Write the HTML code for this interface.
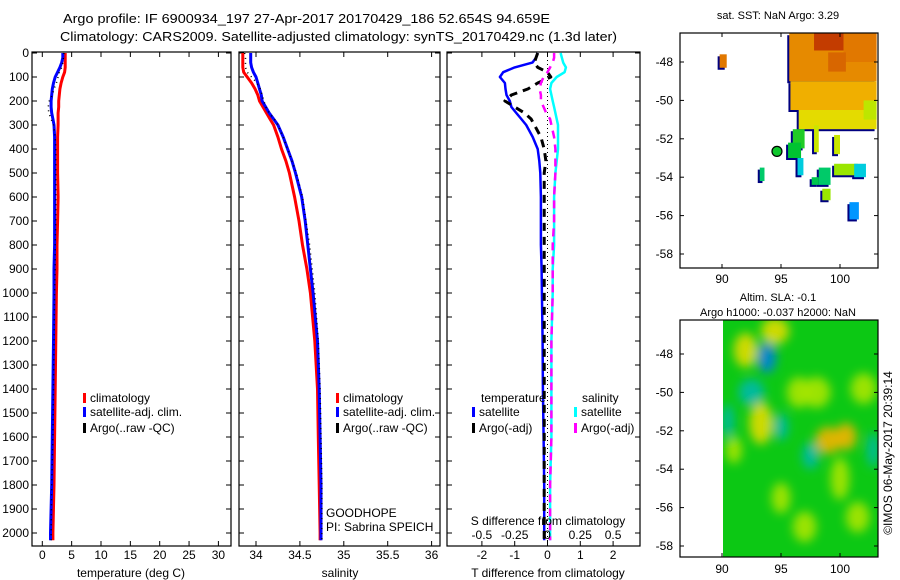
<!DOCTYPE html>
<html><head><meta charset="utf-8">
<style>
html,body{margin:0;padding:0;background:#fff;}
svg{display:block;font-family:"Liberation Sans",sans-serif;}
text{fill:#000;}
</style></head>
<body>
<svg id="fig" width="900" height="580" viewBox="0 0 900 580" xmlns="http://www.w3.org/2000/svg">
<defs>
<filter id="blur" x="-50%" y="-50%" width="200%" height="200%"><feGaussianBlur stdDeviation="5"/></filter>
<clipPath id="clipSla"><rect x="723" y="320" width="155" height="237"/></clipPath>
<clipPath id="clipSst"><rect x="680" y="33" width="198" height="235"/></clipPath>
</defs>
<text x="63" y="23" font-size="13" textLength="487" lengthAdjust="spacingAndGlyphs">Argo profile: IF 6900934_197 27-Apr-2017 20170429_186 52.654S 94.659E</text>
<text x="60" y="41" font-size="13" textLength="557" lengthAdjust="spacingAndGlyphs">Climatology: CARS2009. Satellite-adjusted climatology: synTS_20170429.nc (1.3d later)</text>
<g id="g"></g>
</svg>
<script>
// ---- data ----
const depths = [0,20,40,60,80,100,125,150,175,200,225,250,275,300,350,400,450,500,600,700,800,900,1000,1200,1400,1600,1800,2000,2030];
const depthTicks = [0,100,200,300,400,500,600,700,800,900,1000,1100,1200,1300,1400,1500,1600,1700,1800,1900,2000];
const climT = [3.9,3.9,3.9,3.9,3.8,3.5,3.2,3.0,2.9,2.8,2.8,2.7,2.7,2.7,2.6,2.6,2.6,2.6,2.7,2.6,2.5,2.5,2.4,2.3,2.2,2.1,2.0,1.8,1.8];
const satT = [3.5,3.5,3.3,3.0,2.6,2.2,1.9,1.7,1.6,1.5,1.5,1.6,1.8,2.0,2.1,2.1,2.1,2.1,2.1,2.1,2.1,2.0,2.0,1.9,1.8,1.7,1.6,1.4,1.4];
const argoT = [3.7,3.6,3.5,3.3,2.9,2.7,2.4,2.0,1.7,1.2,1.0,1.1,1.5,1.9,2.2,2.3,2.3,2.3,2.3,2.3,2.2,2.2,2.1,2.0,1.9,1.8,1.6,1.5,1.5];
const climS = [33.85,33.85,33.85,33.85,33.86,33.9,33.95,33.99,34.02,34.04,34.08,34.12,34.16,34.2,34.25,34.29,34.34,34.38,34.44,34.49,34.53,34.58,34.62,34.67,34.7,34.71,34.72,34.73,34.73];
const satS = [33.94,33.94,33.94,33.95,33.97,34.0,34.02,34.04,34.06,34.07,34.11,34.15,34.2,34.25,34.31,34.36,34.41,34.45,34.52,34.56,34.59,34.62,34.65,34.7,34.72,34.73,34.74,34.74,34.74];
const argoS = [33.87,33.88,33.88,33.88,33.9,33.95,34.01,34.05,34.07,34.09,34.11,34.15,34.21,34.25,34.31,34.36,34.41,34.46,34.53,34.57,34.61,34.64,34.67,34.71,34.73,34.74,34.75,34.75,34.75];
const satTd = [-0.3,-0.35,-0.46,-1.0,-1.35,-1.45,-1.3,-1.28,-1.25,-1.15,-1.1,-0.95,-0.8,-0.65,-0.45,-0.3,-0.25,-0.22,-0.2,-0.2,-0.2,-0.18,-0.17,-0.15,-0.14,-0.12,-0.1,-0.1,-0.1];
const argoTd = [-0.3,-0.35,-0.4,-0.3,0.0,0.1,-0.3,-0.6,-1.1,-1.3,-1.0,-0.7,-0.5,-0.4,-0.2,-0.1,-0.05,-0.1,-0.1,-0.1,-0.1,-0.1,-0.1,-0.1,-0.1,-0.1,-0.1,-0.1,-0.1];
const satSd = [0.1,0.11,0.12,0.14,0.13,0.07,0.03,0.02,0.03,0.04,0.05,0.06,0.07,0.08,0.08,0.08,0.07,0.06,0.05,0.05,0.05,0.04,0.04,0.03,0.03,0.03,0.02,0.02,0.02];
const argoSd = [0.05,0.05,0.04,0.02,0.0,-0.03,-0.05,-0.06,-0.05,-0.05,-0.03,-0.01,0.02,0.03,0.05,0.06,0.06,0.06,0.05,0.05,0.04,0.04,0.04,0.03,0.03,0.03,0.02,0.02,0.02];
const tTicks = [0,5,10,15,20,25,30];
const sTicks = [34,34.5,35,35.5,36];
const sLabels = ["34","34.5","35","35.5","36"];
const tdTicks = [-2,-1,0,1,2];
const sdTicks = [-0.5,-0.25,0,0.25,0.5];
const sdLabels = ["-0.5","-0.25","0","0.25","0.5"];
const latTicks = [-48,-50,-52,-54,-56,-58];
const lonTicks = [90,95,100];
const argoLon = 94.659, argoLat = -52.654, argoSST = 3.29;
// SST patches: [lon0, lat0, lon1, lat1, temp]
const sstLon0 = [95.7,97.8,95.8,96.5,96.0,95.6,93.2,89.8,96.4,100.8,98.2,97.6,99.5,101.2,98.5,97.8,99.5,100.3,99.0,102.0];
const sstLat0 = [-46.5,-46.5,-49.0,-50.5,-51.5,-52.2,-53.5,-47.6,-53.0,-55.3,-53.5,-54.0,-53.3,-53.3,-54.6,-51.3,-51.8,-46.5,-47.5,-50.0];
const sstLon1 = [103.1,100.3,103.1,103.1,97.0,96.7,93.6,90.4,96.9,101.6,99.2,98.2,101.5,102.2,99.2,98.2,100.0,103.1,100.5,103.1];
const sstLat1 = [-49.0,-47.4,-50.5,-51.5,-52.5,-53.0,-54.2,-48.3,-53.9,-56.2,-54.4,-54.4,-53.9,-54.0,-55.2,-52.7,-52.8,-48.0,-48.5,-51.0];
const sstVal = [6.6,8.0,5.8,5.0,3.4,3.2,3.0,7.0,2.5,2.0,3.0,3.1,4.2,2.5,4.2,4.6,4.6,7.0,7.3,4.5];
// SLA blobs
const slaLon = [92,94.5,93.3,99,100.5,98,102,96.5,100,95,97,101.5,91,93.8,92.5,90.5,95,102.8,97.5];
const slaLat = [-47.8,-46.8,-51.6,-52.5,-52.3,-50,-49.8,-50,-54.5,-55.5,-57,-56.5,-53,-48.2,-50,-51.5,-51.8,-53,-53.3];
const slaRx = [1.0,1.2,1.0,1.1,0.9,1.2,1.1,1.0,0.8,0.8,1.0,1.0,0.7,0.8,1.1,0.5,0.6,0.5,0.7];
const slaRy = [0.9,0.7,1.1,0.7,0.7,0.8,0.8,0.8,1.1,0.8,0.8,0.8,0.7,0.8,0.7,0.9,0.7,0.9,0.7];
const slaVal = [0.12,0.1,0.14,0.18,0.17,0.08,0.08,0.08,0.08,0.08,0.06,0.06,0.05,-0.2,-0.1,-0.1,-0.1,-0.1,-0.07];

// ---- helpers ----
const NS="http://www.w3.org/2000/svg";
const G=document.getElementById('g');
function mk(tag,attrs,parent){const e=document.createElementNS(NS,tag);for(const k in attrs)e.setAttribute(k,attrs[k]);(parent||G).appendChild(e);return e;}
function txt(x,y,s,size,anchor,parent){const t=mk('text',{x:x,y:y,'font-size':size||12,'text-anchor':anchor||'start'},parent);t.textContent=s;return t;}
const yD = d => 53 + d*0.24;
const xT = t => 42.3 + t*5.87;
const xS = s => 256 + (s-34)*87.8;
const xTd = t => 547.5 + t*32.8;
const xSd = s => 547.5 + s*131.2;
const mx = lon => 722 + (lon-90)*11.8;
const my1 = lat => 62 + (-48-lat)*19.2;
const my2 = lat => 354 + (-48-lat)*19.2;

function box(x0,x1,y0,y1,name){
  const r=mk('rect',{x:x0,y:y0,width:x1-x0,height:y1-y0,fill:'none',stroke:'#000','stroke-width':1.2});
  
  
}
function depthTicksFor(x0,x1,labels){
  depthTicks.forEach(d=>{
    const y=yD(d);
    mk('line',{x1:x0,y1:y,x2:x0+5,y2:y,stroke:'#000'});
    mk('line',{x1:x1-5,y1:y,x2:x1,y2:y,stroke:'#000'});
    if(labels){const t=txt(x0-3,y+4,String(d),12,'end');
      
      }
  });
}
function xTicksFor(vals,fx,y0,y1,labs,ly){
  vals.forEach((v,i)=>{const x=fx(v);
    mk('line',{x1:x,y1:y1,x2:x,y2:y1-5,stroke:'#000'});
    mk('line',{x1:x,y1:y0,x2:x,y2:y0+5,stroke:'#000'});
    if(labs){const t=txt(x,ly,labs[i],12,'middle');
      
      }
  });
}
function prof(vals,fx,color,w,dash,name){
  const pts=vals.map((v,i)=>fx(v).toFixed(1)+','+yD(depths[i]).toFixed(1)).join(' ');
  const a={points:pts,fill:'none',stroke:color,'stroke-width':w,'stroke-linejoin':'round'};
  if(dash)a['stroke-dasharray']=dash;
  const p=mk('polyline',a);
  
  
}
function legendRow(x,y,color,label){
  mk('rect',{x:x,y:y-9,width:3,height:10,fill:color});
  const t=txt(x+7,y,label,12);
  
  
}

// ---- panel 1 ----
box(32,231,52,546,'temperature-axes');
depthTicksFor(32,231,true);
xTicksFor(tTicks,xT,52,546,tTicks.map(String),559);
prof(climT,xT,'#ff0000',3,null,'climatology-temp-line');
prof(satT,xT,'#0000ff',3,null,'satellite-temp-line');
prof(argoT,xT,'#000',1.5,'1,4','argo-temp-line');
legendRow(83,402,'#ff0000','climatology');
legendRow(83,416,'#0000ff','satellite-adj. clim.');
legendRow(83,432,'#000','Argo(..raw -QC)');
{const t=txt(131,577,'temperature (deg C)',12,'middle');}

// ---- panel 2 ----
box(239,440,52,546,'salinity-axes');
depthTicksFor(239,440,false);
xTicksFor(sTicks,xS,52,546,sLabels,559);
prof(climS,xS,'#ff0000',3,null,'climatology-salinity-line');
prof(satS,xS,'#0000ff',3,null,'satellite-salinity-line');
prof(argoS,xS,'#000',1.5,'1,4','argo-salinity-line');
legendRow(336,402,'#ff0000','climatology');
legendRow(336,416,'#0000ff','satellite-adj. clim.');
legendRow(336,432,'#000','Argo(..raw -QC)');
{const t=txt(326,517,'GOODHOPE',12);
 const u=txt(326,531,'PI: Sabrina SPEICH',12);
 const v=txt(340,577,'salinity',12,'middle');}

// ---- panel 3 ----
box(447,640,52,546,'difference-axes');
depthTicksFor(447,640,false);
xTicksFor(tdTicks,xTd,52,546,tdTicks.map(String),559);
mk('line',{x1:xTd(0),y1:52,x2:xTd(0),y2:546,stroke:'#000','stroke-dasharray':'1,3'});
prof(satTd,xTd,'#0000ff',2.5,null,'satellite-temp-diff-line');
prof(argoTd,xTd,'#000',3,'8,6','argo-temp-diff-line');
prof(satSd,xSd,'#00ffff',2.5,null,'satellite-salinity-diff-line');
prof(argoSd,xSd,'#ff00ff',2.5,'8,6','argo-salinity-diff-line');
{const t=txt(481,402,'temperature',12);
 const u=txt(582,402,'salinity',12);}
legendRow(472,416,'#0000ff','satellite');
legendRow(472,432,'#000','Argo(-adj)');
legendRow(574,416,'#00ffff','satellite');
legendRow(574,432,'#ff00ff','Argo(-adj)');
{const t=txt(548,525,'S difference from climatology',12,'middle');}
sdTicks.forEach((v,i)=>{const t=txt(xSd(v),539,sdLabels[i],12,'middle');});
{const t=txt(548,577,'T difference from climatology',12,'middle');}

// ---- colormaps ----
const sstStops=[[2.0,[0,150,255]],[2.6,[0,215,215]],[3.2,[0,195,50]],[4.0,[130,230,0]],[4.8,[225,230,0]],[5.8,[240,175,0]],[7.0,[225,120,0]],[8.5,[180,30,0]]];
function sstColor(v){
  if(v<=sstStops[0][0])return 'rgb('+sstStops[0][1].join(',')+')';
  for(let i=1;i<sstStops.length;i++){if(v<=sstStops[i][0]){const a=sstStops[i-1],b=sstStops[i],f=(v-a[0])/(b[0]-a[0]);
    return 'rgb('+a[1].map((c,k)=>Math.round(c+(b[1][k]-c)*f)).join(',')+')';}}
  return 'rgb('+sstStops[sstStops.length-1][1].join(',')+')';}
function slaColor(v){
  if(v>0.15)return 'rgb(240,180,0)';
  if(v>0.09)return 'rgb(225,220,0)';
  if(v>0)return 'rgb(170,230,0)';
  if(v<-0.15)return 'rgb(0,130,220)';
  return 'rgb(0,185,170)';}

// ---- map 1 ----
{const t=txt(778,19,'sat. SST: NaN Argo: 3.29',11,'middle');}
const sstG=mk('g',{'clip-path':'url(#clipSst)'});


sstVal.forEach((v,i)=>{
  const x0=mx(sstLon0[i]),x1=mx(sstLon1[i]),y0=my1(sstLat0[i]),y1=my1(sstLat1[i]);
  mk('rect',{x:x0-2,y:y0+2,width:x1-x0,height:y1-y0,fill:'#000080'},sstG);
});
sstVal.forEach((v,i)=>{
  const x0=mx(sstLon0[i]),x1=mx(sstLon1[i]),y0=my1(sstLat0[i]),y1=my1(sstLat1[i]);
  const r=mk('rect',{x:x0,y:y0,width:x1-x0,height:y1-y0,fill:sstColor(v)},sstG);
  
  
});
{const c=mk('circle',{cx:mx(argoLon),cy:my1(argoLat),r:5,fill:sstColor(argoSST),stroke:'#000','stroke-width':1.2});
 }
box(680,878,33,268,'sst-map-axes');
latTicks.forEach(l=>{const y=my1(l);mk('line',{x1:680,y1:y,x2:684,y2:y,stroke:'#000'});mk('line',{x1:874,y1:y,x2:878,y2:y,stroke:'#000'});
  const t=txt(673,y+4,String(l),12,'end');});
lonTicks.forEach(l=>{const x=mx(l);mk('line',{x1:x,y1:268,x2:x,y2:264,stroke:'#000'});mk('line',{x1:x,y1:33,x2:x,y2:37,stroke:'#000'});
  const t=txt(x,283,String(l),12,'middle');});

// ---- map 2 ----
{const t=txt(778,301,'Altim. SLA: -0.1',11,'middle');
 const u=txt(778,316,'Argo h1000: -0.037 h2000: NaN',11,'middle');}
const slaG=mk('g',{'clip-path':'url(#clipSla)'});


mk('rect',{x:723,y:320,width:155,height:237,fill:'#0cc814'},slaG);
const bl=mk('g',{filter:'url(#blur)'},slaG);
slaVal.forEach((v,i)=>{
  const e=mk('ellipse',{cx:mx(slaLon[i]),cy:my2(slaLat[i]),rx:slaRx[i]*11.8,ry:slaRy[i]*19.2,fill:slaColor(v),opacity:0.9},bl);
  
  
});
box(680,878,320,557,'sla-map-axes');
latTicks.forEach(l=>{const y=my2(l);mk('line',{x1:680,y1:y,x2:684,y2:y,stroke:'#000'});mk('line',{x1:874,y1:y,x2:878,y2:y,stroke:'#000'});
  const t=txt(673,y+4,String(l),12,'end');});
lonTicks.forEach(l=>{const x=mx(l);mk('line',{x1:x,y1:557,x2:x,y2:553,stroke:'#000'});
  const t=txt(x,573,String(l),12,'middle');});
{const t=txt(0,0,'©IMOS 06-May-2017 20:39:14',12,'middle');
 t.setAttribute('transform','translate(892,453) rotate(-90)');
 }
</script>
</body></html>
